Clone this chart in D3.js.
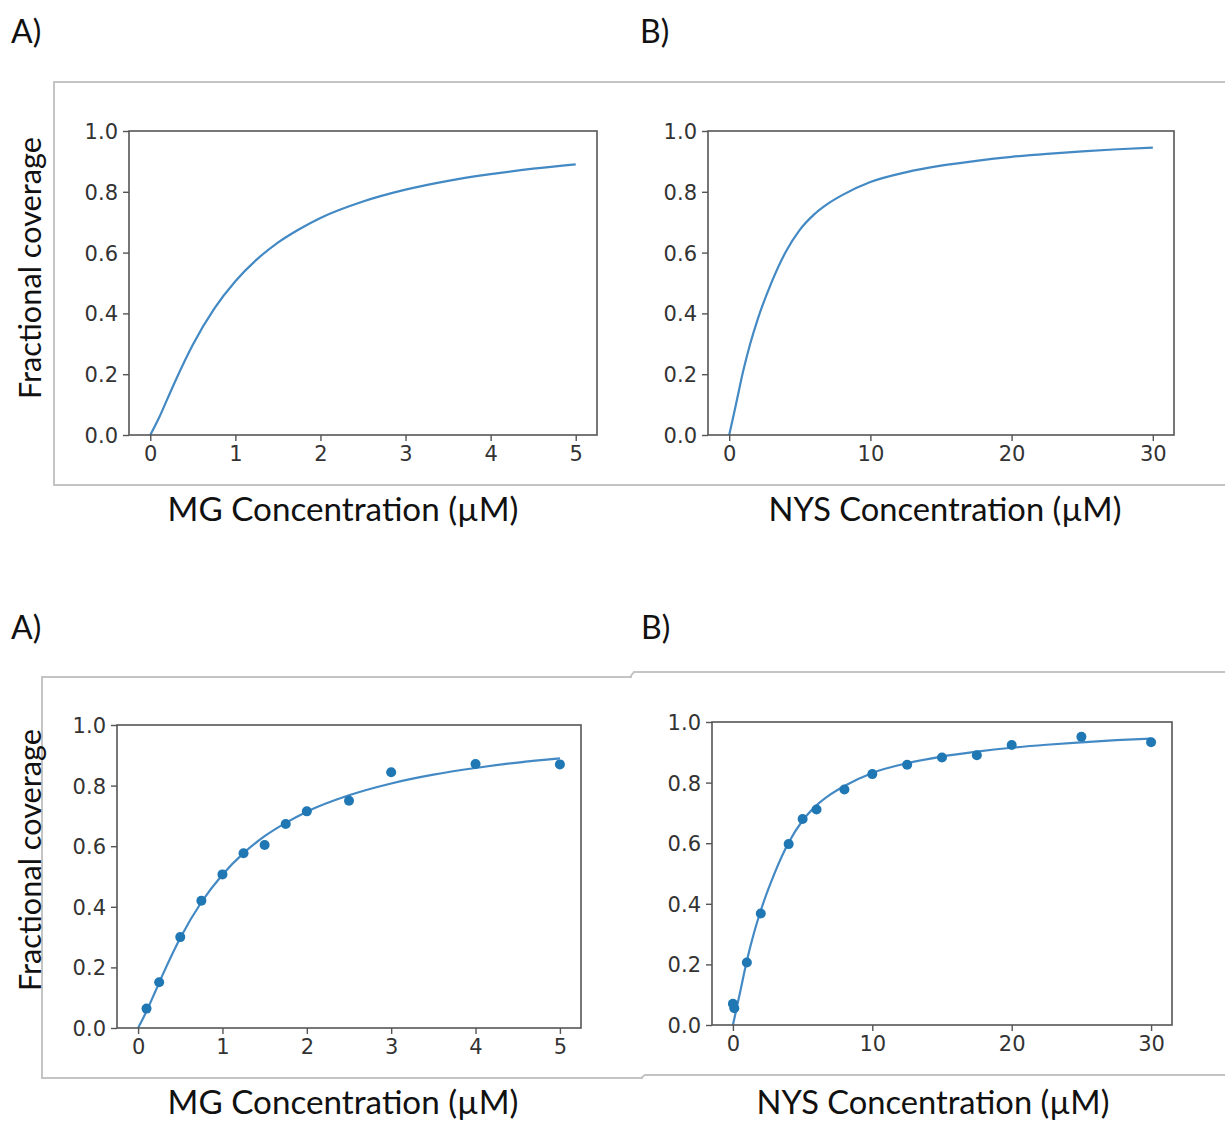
<!DOCTYPE html>
<html>
<head>
<meta charset="utf-8">
<script src="https://cdn.jsdelivr.net/npm/d3@7"></script>
<style>
  html, body { margin: 0; padding: 0; background: #fff; }
  svg { display: block; }
</style>
</head>
<body>
<svg id="chart" width="1225" height="1124"></svg>
<script>
// ---------------- DATA ----------------
const panelLetters = ["A)", "B)"];
const yTicks = [0.0, 0.2, 0.4, 0.6, 0.8, 1.0];
const mgTicks = [0, 1, 2, 3, 4, 5];
const nysTicks = [0, 10, 20, 30];
const yLabel = "Fractional coverage";
const mgLabel = "MG Concentration (\u00B5M)";
const nysLabel = "NYS Concentration (\u00B5M)";

// fitted binding curves
const mgCurveX = [0, 0.1, 0.2, 0.3, 0.5, 0.75, 1.0, 1.25, 1.5, 1.75, 2.0, 2.5, 3.0, 3.5, 4.0, 4.5, 5.0];
const mgCurveY = [0, 0.055, 0.118, 0.181, 0.297, 0.415, 0.506, 0.577, 0.633, 0.677, 0.714, 0.768, 0.807, 0.836, 0.858, 0.876, 0.890];
const nysCurveX = [0, 0.25, 0.5, 1, 1.5, 2, 3, 4, 5, 6, 7, 8, 10, 12.5, 15, 17.5, 20, 22.5, 25, 27.5, 30];
const nysCurveY = [0, 0.052, 0.105, 0.212, 0.302, 0.378, 0.502, 0.602, 0.675, 0.725, 0.761, 0.789, 0.832, 0.864, 0.886, 0.902, 0.915, 0.925, 0.933, 0.940, 0.945];

// measured points (bottom panels)
const mgDataX = [0.1, 0.25, 0.5, 0.75, 1.0, 1.25, 1.5, 1.75, 2.0, 2.5, 3.0, 4.0, 5.0];
const mgDataY = [0.064, 0.151, 0.300, 0.420, 0.507, 0.577, 0.604, 0.673, 0.715, 0.750, 0.844, 0.871, 0.870];
const nysDataX = [0, 0.1, 1, 2, 4, 5, 6, 8, 10, 12.5, 15, 17.5, 20, 25, 30];
const nysDataY = [0.070, 0.055, 0.206, 0.368, 0.597, 0.680, 0.711, 0.777, 0.828, 0.859, 0.883, 0.890, 0.924, 0.951, 0.933];

// ---------------- LAYOUT ----------------
const svg = d3.select("#chart");
const LINE = "#4389c4";
const DOT = "#1f77b4";
const FRAME = "#c4c4c4";
const INK = "#333333";

// gray frames
const frameG = svg.append("g").attr("fill", "none").attr("stroke", FRAME).attr("stroke-width", 2);
frameG.append("path").attr("d", "M1226,82 L54,82 L54,485 L1226,485");
frameG.append("path").attr("d", "M632,677 L42,677 L42,1078 L643,1078");
frameG.append("path").attr("d", "M630,677 L634,672 L1226,672 M641,1078 L645,1075 L1226,1075");

// panel letters
const letterPos = [[11, 43], [640, 43], [11, 639], [641, 639]];
letterPos.forEach((p, i) => {
  svg.append("text").attr("x", p[0]).attr("y", p[1])
    .attr("font-family", "Lato, 'Open Sans', sans-serif").attr("font-size", 32)
    .attr("fill", "#111").text(panelLetters[i % 2]);
});

const panels = [
  { box: [129, 597, 131, 435], xd: [-0.25, 5.25], ticks: mgTicks, cx: mgCurveX, cy: mgCurveY, dx: null, dy: null,
    xl: mgLabel, xlPos: [343, 521], yl: true, ylPos: [31, 268] },
  { box: [708, 1174, 131, 435], xd: [-1.5, 31.5], ticks: nysTicks, cx: nysCurveX, cy: nysCurveY, dx: null, dy: null,
    xl: nysLabel, xlPos: [945, 521], yl: false },
  { box: [117, 581, 725, 1028], xd: [-0.25, 5.25], ticks: mgTicks, cx: mgCurveX, cy: mgCurveY, dx: mgDataX, dy: mgDataY,
    xl: mgLabel, xlPos: [343, 1114], yl: true, ylPos: [31, 860] },
  { box: [712, 1172, 722, 1025], xd: [-1.5, 31.5], ticks: nysTicks, cx: nysCurveX, cy: nysCurveY, dx: nysDataX, dy: nysDataY,
    xl: nysLabel, xlPos: [933, 1114], yl: false }
];

function fitText(sel, target) {
  const w = sel.node().getComputedTextLength();
  const fs = parseFloat(sel.attr("font-size"));
  sel.attr("font-size", fs * target / w);
}

panels.forEach(p => {
  const [x0, x1, y0, y1] = p.box;
  const x = d3.scaleLinear().domain(p.xd).range([x0, x1]);
  const y = d3.scaleLinear().domain([0, 1]).range([y1, y0]);
  const g = svg.append("g");

  // curve
  const pts = p.cx.map((v, i) => [v, p.cy[i]]);
  g.append("path").datum(pts)
    .attr("fill", "none").attr("stroke", LINE).attr("stroke-width", 2.2)
    .attr("d", d3.line().x(d => x(d[0])).y(d => y(d[1])).curve(d3.curveMonotoneX));

  // points
  if (p.dx) {
    g.selectAll("circle.pt").data(p.dx.map((v, i) => [v, p.dy[i]])).enter()
      .append("circle").attr("class", "pt")
      .attr("cx", d => x(d[0])).attr("cy", d => y(d[1])).attr("r", 5)
      .attr("fill", DOT);
  }

  // axes
  const xa = g.append("g").attr("transform", `translate(0,${y1})`)
    .call(d3.axisBottom(x).tickValues(p.ticks).tickSize(6).tickPadding(5).tickFormat(d3.format("d")));
  const ya = g.append("g").attr("transform", `translate(${x0},0)`)
    .call(d3.axisLeft(y).tickValues(yTicks).tickSize(6).tickPadding(5).tickFormat(d3.format(".1f")));
  [xa, ya].forEach(a => {
    a.select(".domain").remove();
    a.selectAll(".tick line").attr("stroke", "#555").attr("stroke-width", 1.4);
    a.selectAll(".tick text").attr("fill", INK)
      .attr("font-family", "'DejaVu Sans', sans-serif").attr("font-size", 21);
  });
  ya.selectAll(".tick text").attr("dy", "0.36em");

  // spines
  g.append("rect").attr("x", x0).attr("y", y0).attr("width", x1 - x0).attr("height", y1 - y0)
    .attr("fill", "none").attr("stroke", "#555").attr("stroke-width", 1.6);

  // labels
  const xl = svg.append("text").attr("x", p.xlPos[0]).attr("y", p.xlPos[1])
    .attr("text-anchor", "middle").attr("font-family", "Lato, 'Open Sans', sans-serif")
    .attr("font-size", 32).attr("fill", "#111").text(p.xl);
  fitText(xl, p.xl === mgLabel ? 351 : 353);

  if (p.yl) {
    const yl = svg.append("text")
      .attr("transform", `translate(${p.ylPos[0] + 10},${p.ylPos[1]}) rotate(-90)`)
      .attr("text-anchor", "middle").attr("font-family", "Lato, 'Open Sans', sans-serif")
      .attr("font-size", 28).attr("fill", "#111").text(yLabel);
    fitText(yl, 262);
  }
});
</script>
</body>
</html>
